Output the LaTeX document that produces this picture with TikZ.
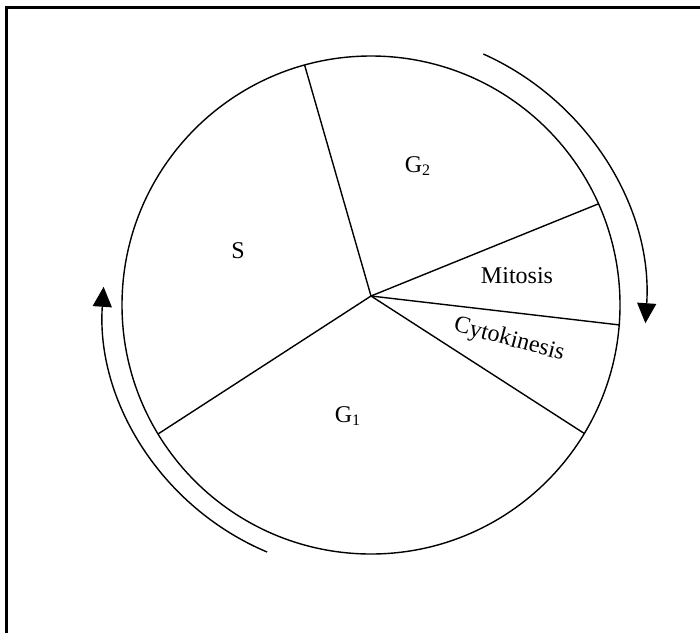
\documentclass[tikz,border=0pt]{standalone}
\usepackage{fontspec}
\setmainfont{Liberation Serif}
\usetikzlibrary{arrows.meta}
\begin{document}
\begin{tikzpicture}[x=0.5pt,y=-0.5pt,
  rim/.style={line width=0.7pt},
  spoke/.style={line width=0.7pt},
  cyclearrow/.style={line width=0.7pt,-{Triangle[length=10pt,width=9.5pt]}},
  lbl/.style={font=\fontsize{12}{14}\selectfont,inner sep=0pt},
  frame/.style={line width=1.25pt}]
\useasboundingbox (0,0) rectangle (700,632);
% frame
\draw[frame] (6.3,640) -- (6.3,7.5) -- (710,7.5);
% circle
\coordinate (c) at (371,305);
\draw[rim] (c) circle [radius=249];
% hub and rim points
\coordinate (hub) at (371,296);
\coordinate (pA) at (304.6,65);
\coordinate (pB) at (598,204);
\coordinate (pC) at (620,325);
\coordinate (pD) at (584.5,433.6);
\coordinate (pE) at (158,434);
\foreach \p in {pA,pB,pC,pD,pE} \draw[spoke] (hub) -- (\p);
% arrows
\draw[cyclearrow] (c) ++(-65.9:275) arc [start angle=-65.9, end angle=3.8, radius=275];
\draw[cyclearrow] (c) ++(112.8:268) arc [start angle=112.8, end angle=183.9, radius=268];
% labels
\node[lbl] (g2) at (418,166) {G\textsubscript{2}};
\node[lbl] (s) at (238,251) {S};
\node[lbl] (mit) at (517,276) {Mitosis};
\node[lbl,rotate=-15] (cyt) at (509,340) {Cytokinesis};
\node[lbl] (g1) at (348,416) {G\textsubscript{1}};
\end{tikzpicture}
\end{document}
